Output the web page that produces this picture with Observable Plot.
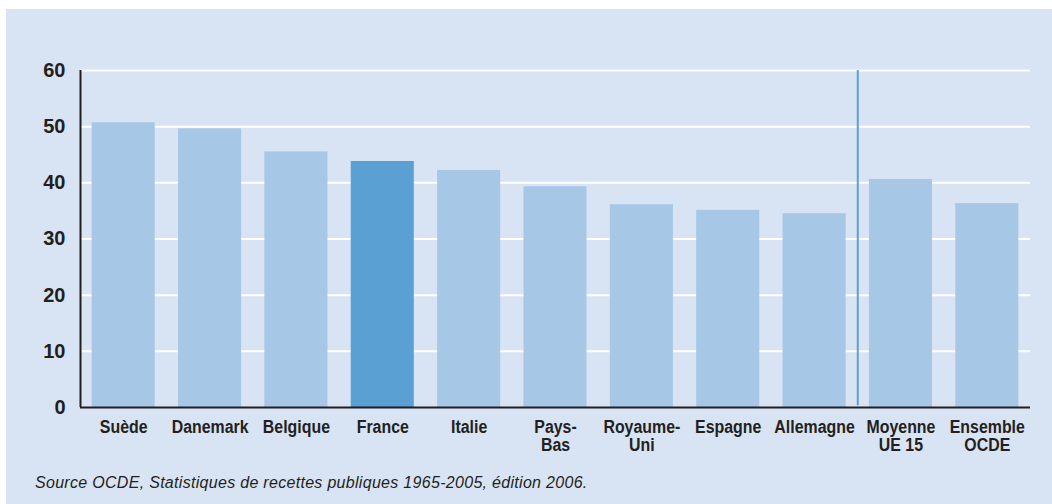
<!DOCTYPE html>
<html>
<head>
<meta charset="utf-8">
<script src="https://cdn.jsdelivr.net/npm/d3@7"></script>
<script src="https://cdn.jsdelivr.net/npm/@observablehq/plot@0.6"></script>
<style>
  html, body { margin: 0; padding: 0; background: #ffffff; }
  #panel { position: absolute; left: 6px; top: 9px; width: 1046px; height: 495px; background: #d8e3f3; }
  #chart { position: absolute; left: 0; top: 0; }
  #caption { position: absolute; left: 29px; top: 466px; font: italic 16px/16px "Liberation Sans", Arial, sans-serif; letter-spacing: 0.3px; color: #231f20; white-space: nowrap; }
</style>
</head>
<body>
<div id="panel">
  <div id="chart"></div>
  <div id="caption"></div>
</div>
<script>
const categories = ["Suède", "Danemark", "Belgique", "France", "Italie", "Pays-\nBas", "Royaume-\nUni", "Espagne", "Allemagne", "Moyenne\nUE 15", "Ensemble\nOCDE"];
const values = [50.7, 49.6, 45.5, 43.8, 42.2, 39.3, 36.1, 35.1, 34.5, 40.6, 36.3];
const highlight = "France";
const yTicks = [0, 10, 20, 30, 40, 50, 60];
const gridTicks = [10, 20, 30, 40, 50, 60];
const separatorBefore = "Moyenne\nUE 15";
const captionText = "Source OCDE, Statistiques de recettes publiques 1965-2005, édition 2006.";

const data = categories.map((c, i) => ({cat: c, value: values[i]}));
const W = 1046, ML = 74, MR = 22;
const halfStep = (W - ML - MR) / categories.length / 2;
const sans = "'Liberation Sans', Arial, sans-serif";

const chart = Plot.plot({
  width: W, height: 460,
  marginLeft: ML, marginRight: MR, marginTop: 61, marginBottom: 62,
  x: {domain: categories, paddingInner: 0.27, paddingOuter: 0.135, round: false},
  y: {domain: [0, 60]},
  style: {background: "transparent", overflow: "visible"},
  marks: [
    Plot.ruleY(gridTicks, {stroke: "#ffffff", strokeWidth: 2}),
    Plot.barY(data.filter(d => d.cat !== highlight), {x: "cat", y: "value", fill: "#a6c7e6"}),
    Plot.barY(data.filter(d => d.cat === highlight), {x: "cat", y: "value", fill: "#5aa0d3"}),
    Plot.ruleY([0], {stroke: "#231f20", strokeWidth: 2}),
    Plot.ruleX([categories[0]], {x: d => d, dx: -halfStep, y1: 0, y2: 60, stroke: "#231f20", strokeWidth: 2}),
    Plot.ruleX([separatorBefore], {x: d => d, dx: -halfStep, y1: 0.3, y2: 60, stroke: "#5aa0d3", strokeWidth: 2}),
    Plot.axisY(yTicks, {tickSize: 0, tickPadding: 15, fontSize: 20, fontWeight: "bold", fontFamily: sans, fill: "#231f20", label: null}),
    Plot.axisX({tickSize: 0, tickPadding: 12, fontSize: 18.5, fontWeight: "bold", fontFamily: sans, lineHeight: 1.0, fill: "#231f20", label: null})
  ]
});
document.getElementById("chart").appendChild(chart);
// condense the category labels horizontally (narrow bold face), about each label's centre
d3.select(chart).selectAll('g[aria-label="x-axis tick label"] text').each(function () {
  const t = this.getAttribute("transform") || "";
  const b = this.getBBox();
  const cx = b.x + b.width / 2;
  this.setAttribute("transform", `${t} translate(${cx},0) scale(0.86,1) translate(${-cx},0)`);
});
document.getElementById("caption").textContent = captionText;
</script>
</body>
</html>
